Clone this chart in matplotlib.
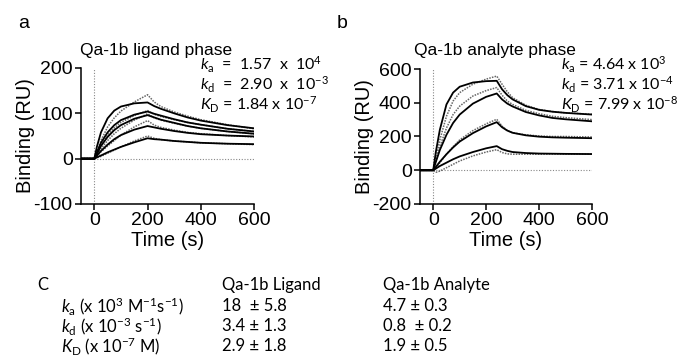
import matplotlib
matplotlib.use("Agg")
import matplotlib.pyplot as plt

plt.rcParams['font.family'] = ['Liberation Sans', 'DejaVu Sans']
plt.rcParams['mathtext.fontset'] = 'custom'
plt.rcParams['mathtext.rm'] = 'Lato'
plt.rcParams['mathtext.it'] = 'Lato:italic'
plt.rcParams['axes.unicode_minus'] = False

# ---------------- data ----------------
# Panel a: Qa-1b ligand phase
time_a = [-50, 0, 10, 25, 50, 75, 100, 150, 200, 225, 250, 300, 350, 400, 500, 600]
fit_a1 = [0, 0, 27, 58, 89, 106, 115, 122, 124, 116, 110, 100, 91, 84, 74, 67]
fit_a2 = [0, 0, 14, 35, 58, 74, 85, 97, 104, 99, 95, 87, 80, 75, 66, 60]
fit_a3 = [0, 0, 11, 28, 48, 63, 74, 88, 96, 91, 86, 79, 72, 67, 60, 55]
fit_a4 = [0, 0, 7, 17, 31, 43, 52, 64, 72, 69, 66, 61, 57, 54, 51, 49]
fit_a5 = [0, 0, 3, 7, 14, 20, 26, 36, 45, 43, 42, 39, 37, 35, 33, 32]
dat_a1 = [0, 0, 15, 40, 70, 90, 105, 125, 141, 125, 115, 103, 94, 86, 75, 66]
dat_a2 = [0, 0, 12, 30, 52, 68, 80, 95, 106, 98, 93, 86, 80, 75, 66, 60]
dat_a3 = [0, 0, 9, 22, 40, 55, 67, 85, 99, 90, 85, 78, 72, 67, 60, 55]
dat_a4 = [0, 0, 6, 15, 28, 40, 52, 70, 84, 74, 69, 63, 58, 55, 51, 48]
dat_a5 = [0, 0, 2, 5, 12, 19, 26, 39, 50, 45, 42, 39, 37, 35, 33, 31]

# Panel b: Qa-1b analyte phase
time_b = [-50, 0, 10, 25, 50, 75, 100, 150, 200, 240, 260, 280, 300, 350, 400, 450, 500, 600]
fit_b1 = [0, 0, 110, 240, 390, 460, 495, 520, 528, 530, 480, 445, 420, 380, 358, 347, 340, 330]
fit_b2 = [0, 0, 50, 120, 210, 280, 330, 395, 435, 455, 420, 395, 378, 345, 325, 310, 302, 290]
fit_b3 = [0, 0, 20, 50, 95, 135, 170, 220, 260, 285, 255, 235, 222, 207, 199, 195, 193, 190]
fit_b4 = [0, 0, 10, 25, 45, 65, 82, 108, 130, 143, 125, 115, 108, 102, 99, 98, 97, 96]
dat_b1 = [0, 0, 70, 180, 320, 410, 460, 510, 540, 558, 510, 465, 430, 385, 360, 348, 340, 332]
dat_b2 = [0, 0, 55, 140, 250, 330, 380, 440, 472, 490, 445, 410, 390, 355, 335, 320, 312, 300]
dat_b3 = [0, 0, 15, 45, 95, 140, 180, 235, 275, 302, 262, 235, 222, 210, 203, 200, 200, 197]
dat_b4 = [0, 0, -12, -5, 15, 35, 55, 85, 108, 122, 105, 97, 95, 95, 95, 96, 96, 96]

xticks = [0, 200, 400, 600]
yticks_a = [-100, 0, 100, 200]
yticks_b = [-200, 0, 200, 400, 600]

kin_a = [r'$k_{\rm a}$  =  1.57  x  10$^{4}$', r'$k_{\rm d}$  =  2.90  x  10$^{-3}$', r'$K_{\rm D}$ = 1.84 x 10$^{-7}$']
kin_b = [r'$k_{\rm a}$ = 4.64 x 10$^{3}$', r'$k_{\rm d}$ = 3.71 x 10$^{-4}$', r'$K_{\rm D}$ = 7.99 x 10$^{-8}$']

table_rows = [r'$k_{\rm a}$ (x 10$^{3}$ M$^{-1}$s$^{-1}$)', r'$k_{\rm d}$ (x 10$^{-3}$ s$^{-1}$)', r'$K_{\rm D}$ (x 10$^{-7}$ M)']
table_cols = ['Qa-1b Ligand', 'Qa-1b Analyte']
ligand_vals = ['18  \u00b1 5.8', '3.4 \u00b1 1.3', '2.9 \u00b1 1.8']
analyte_vals = ['4.7 \u00b1 0.3', '0.8  \u00b1 0.2', '1.9 \u00b1 0.5']

# ---------------- figure ----------------
W, H = 677, 358
fig = plt.figure(figsize=(W / 100, H / 100), dpi=100)

def px(x, y):
    return x / W, 1 - y / H

def style_axes(ax, ylim, yticks):
    ax.set_xlim(-50, 600)
    ax.set_ylim(*ylim)
    ax.set_xticks(xticks)
    ax.set_yticks(yticks)
    for s in ['top', 'right']:
        ax.spines[s].set_visible(False)
    for s in ['left', 'bottom']:
        ax.spines[s].set_linewidth(1.1)
    ax.tick_params(direction='out', length=4, width=1.1, labelsize=14, pad=2)
    ax.set_xlabel('Time (s)', fontsize=14.5, labelpad=1)
    ax.set_ylabel('Binding (RU)', fontsize=14.5, labelpad=-1)
    ax.axvline(0, color='#888888', lw=0.8, ls=(0, (1, 1.5)))
    ax.plot([0, 600], [0, 0], color='#888888', lw=0.8, ls=(0, (1, 1.5)))

ax_a = fig.add_axes([81 / W, 1 - 204 / H, 173 / W, 136 / H])
ax_b = fig.add_axes([420 / W, 1 - 204 / H, 172 / W, 135 / H])
style_axes(ax_a, (-100, 200), yticks_a)
style_axes(ax_b, (-200, 600), yticks_b)

for d in [dat_a1, dat_a2, dat_a3, dat_a4, dat_a5]:
    ax_a.plot(time_a, d, color='#666666', lw=1.1, ls=(0, (1, 0.8)))
for f in [fit_a1, fit_a2, fit_a3, fit_a4, fit_a5]:
    ax_a.plot(time_a, f, color='black', lw=1.3)
for d in [dat_b1, dat_b2, dat_b3, dat_b4]:
    ax_b.plot(time_b, d, color='#666666', lw=1.1, ls=(0, (1, 0.8)))
for f in [fit_b1, fit_b2, fit_b3, fit_b4]:
    ax_b.plot(time_b, f, color='black', lw=1.3)

# panel letters and titles
fig.text(*px(18, 23), 'a', fontsize=14, va='center', ha='left')
fig.text(*px(337, 23), 'b', fontsize=14, va='center', ha='left')
fig.text(*px(80, 51), 'Qa-1b ligand phase', fontsize=12.5, va='center', ha='left')
fig.text(*px(414, 51), 'Qa-1b analyte phase', fontsize=12.5, va='center', ha='left')

# kinetic annotations
for i, s in enumerate(kin_a):
    fig.text(*px(200, 65 + 20 * i), s, fontsize=11.5, va='center', ha='left', family='Lato')
for i, s in enumerate(kin_b):
    fig.text(*px(561, 65 + 20 * i), s, fontsize=11.5, va='center', ha='left', family='Lato')

# summary table
tkw = dict(fontsize=12, va='center', ha='left', family='Lato')
fig.text(*px(37, 285), 'C', **tkw)
fig.text(*px(222, 285), table_cols[0], **tkw)
fig.text(*px(383, 285), table_cols[1], **tkw)
for i in range(3):
    y = 306 + 20 * i
    fig.text(*px(61, y), table_rows[i], **tkw)
    fig.text(*px(222, y), ligand_vals[i], **tkw)
    fig.text(*px(383, y), analyte_vals[i], **tkw)

fig.savefig('out.png', dpi=100)
